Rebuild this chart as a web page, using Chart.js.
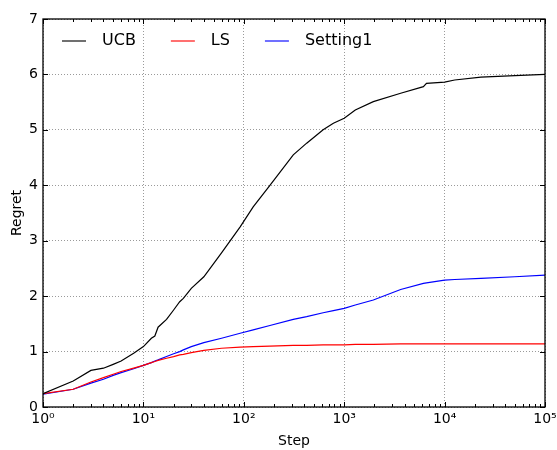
<!DOCTYPE html>
<html>
<head>
<meta charset="utf-8">
<script src="https://cdn.jsdelivr.net/npm/chart.js@4/dist/chart.umd.min.js"></script>
<style>
  html, body { margin: 0; padding: 0; background: #fff; }
  #wrap { width: 557px; height: 450px; }
</style>
</head>
<body>
<div id="wrap"><canvas id="chart" width="557" height="450"></canvas></div>
<script>
// Regret vs step, log x axis.
const steps = [1, 2, 3, 4, 5, 6, 8, 10, 12, 13, 14, 17, 20, 23, 25, 30, 40, 60, 92, 124,
  182, 311, 423, 617, 780, 1000, 1290, 1950, 3650, 6150, 6600, 10000, 12600, 23000, 50000, 100000];
const ucb = [0.24, 0.47, 0.66, 0.70, 0.77, 0.83, 0.97, 1.09, 1.24, 1.28, 1.44, 1.58, 1.75, 1.90, 1.96, 2.14, 2.35, 2.78, 3.25, 3.61,
  4.00, 4.55, 4.76, 5.00, 5.12, 5.21, 5.36, 5.51, 5.66, 5.78, 5.84, 5.86, 5.90, 5.95, 5.98, 6.00];
const ls = [0.24, 0.32, 0.45, 0.53, 0.59, 0.64, 0.70, 0.75, 0.80, 0.82, 0.84, 0.88, 0.91, 0.94, 0.95, 0.98, 1.02, 1.06, 1.08, 1.09,
  1.10, 1.11, 1.11, 1.12, 1.12, 1.12, 1.13, 1.13, 1.14, 1.14, 1.14, 1.14, 1.14, 1.14, 1.14, 1.14];
const setting1 = [0.23, 0.32, 0.43, 0.50, 0.57, 0.62, 0.69, 0.75, 0.80, 0.83, 0.85, 0.91, 0.96, 1.00, 1.03, 1.09, 1.16, 1.24, 1.33, 1.39,
  1.47, 1.58, 1.63, 1.70, 1.74, 1.78, 1.84, 1.93, 2.12, 2.23, 2.24, 2.29, 2.30, 2.32, 2.35, 2.38];
const seriesNames = ["UCB", "LS", "Setting1"];
const xTicks = [1, 10, 100, 1000, 10000, 100000];
const xTickLabels = ["10⁰", "10¹", "10²", "10³", "10⁴", "10⁵"];
const yMin = 0, yMax = 7;

const FONT = "'DejaVu Sans', sans-serif";
const colors = ["#000000", "#ff0000", "#0000ff"];
const toPoints = (ys) => steps.map((x, i) => ({ x: x, y: ys[i] }));

// matplotlib-style frame, inward ticks and an in-plot legend without a box
const framePlugin = {
  id: "frame",
  afterDraw(chart) {
    const { ctx, chartArea: a, scales } = chart;
    const xs = scales.x, ys = scales.y;
    ctx.save();
    ctx.strokeStyle = "#000";
    ctx.lineWidth = 1;
    const tick = (x1, y1, x2, y2) => { ctx.beginPath(); ctx.moveTo(x1, y1); ctx.lineTo(x2, y2); ctx.stroke(); };
    // x ticks, major + minor, bottom and top
    for (let d = 1; d <= xTicks[xTicks.length - 1]; d *= 10) {
      for (let k = 1; k <= 9; k++) {
        const v = d * k;
        if (v > xs.max) break;
        const px = Math.round(xs.getPixelForValue(v)) + 0.5;
        const len = k === 1 ? 5 : 3;
        tick(px, a.bottom, px, a.bottom - len);
        tick(px, a.top, px, a.top + len);
      }
    }
    // y ticks, left and right
    for (let v = yMin; v <= yMax; v++) {
      const py = Math.round(ys.getPixelForValue(v)) + 0.5;
      tick(a.left, py, a.left + 5, py);
      tick(a.right, py, a.right - 5, py);
    }
    ctx.lineWidth = 1.3;
    ctx.strokeRect(a.left, a.top, a.right - a.left, a.bottom - a.top);

    // legend
    ctx.font = "16px " + FONT;
    ctx.textBaseline = "middle";
    ctx.fillStyle = "#000";
    let x = a.left + 19;
    const y = a.top + 22;
    chart.data.datasets.forEach((ds) => {
      ctx.strokeStyle = ds.borderColor;
      ctx.globalAlpha = 0.75;
      ctx.lineWidth = 1.5;
      tick(x, y, x + 24, y);
      ctx.globalAlpha = 1;
      ctx.fillText(ds.label, x + 40, y);
      x += 40 + ctx.measureText(ds.label).width + 35;
    });
    ctx.restore();
  },
};

Chart.defaults.font.family = FONT;
Chart.defaults.color = "#000";

new Chart(document.getElementById("chart"), {
  type: "line",
  data: {
    datasets: [ucb, ls, setting1].map((ys, i) => ({
      label: seriesNames[i],
      data: toPoints(ys),
      borderColor: colors[i],
      backgroundColor: colors[i],
      borderWidth: 1.2,
      pointRadius: 0,
      tension: 0,
    })),
  },
  options: {
    responsive: false,
    animation: false,
    layout: { padding: { top: 19, right: 12, left: 0, bottom: 0 } },
    plugins: { legend: { display: false }, tooltip: { enabled: false } },
    scales: {
      x: {
        type: "logarithmic",
        min: xTicks[0],
        max: xTicks[xTicks.length - 1],
        afterBuildTicks: (s) => { s.ticks = xTicks.map((v) => ({ value: v, major: true })); },
        afterFit: (s) => { s.height = 43; s.paddingLeft = 0; s.paddingRight = 0; },
        grid: { color: "#9a9a9a", lineWidth: 1, drawTicks: false },
        border: { display: false, dash: [1, 2] },
        ticks: {
          font: { size: 14 },
          padding: 4,
          maxRotation: 0,
          autoSkip: false,
          callback: (v) => { const i = xTicks.indexOf(v); return i >= 0 ? xTickLabels[i] : ""; },
        },
        title: { display: true, text: "Step", font: { size: 14 }, padding: { top: 0, bottom: 0 } },
      },
      y: {
        min: yMin,
        max: yMax,
        afterFit: (s) => { s.width = 43; },
        grid: { color: "#9a9a9a", lineWidth: 1, drawTicks: false },
        border: { display: false, dash: [1, 2] },
        ticks: { stepSize: 1, font: { size: 14 }, padding: 5 },
        title: { display: true, text: "Regret", font: { size: 14 }, padding: { top: 9, bottom: 0 } },
      },
    },
  },
  plugins: [framePlugin],
});
</script>
</body>
</html>
